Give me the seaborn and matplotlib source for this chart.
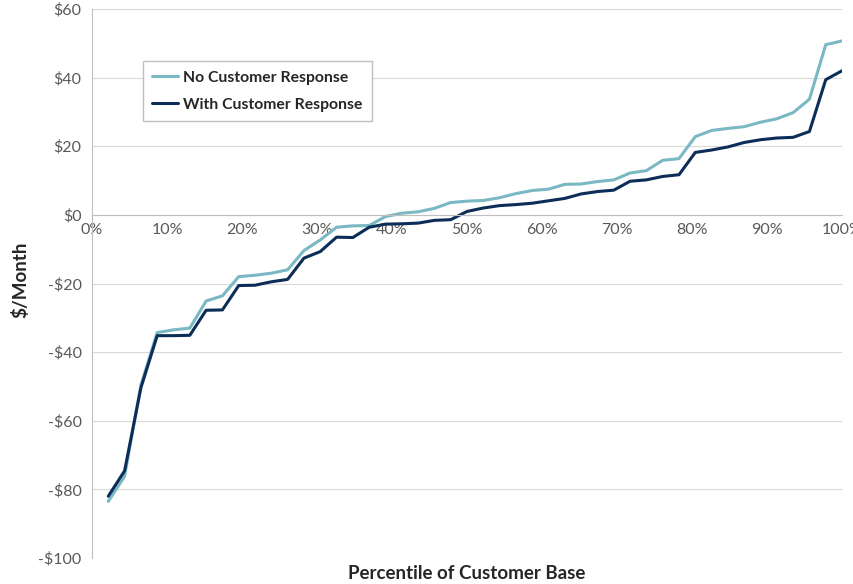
import matplotlib
matplotlib.use("Agg")
import matplotlib.pyplot as plt
import matplotlib.ticker as mticker
import seaborn as sns
import pandas as pd

# percentile positions (46 customers, evenly spaced)
percentile = [i / 46 * 100 for i in range(1, 47)]

no_response = [
    -83.5, -76.2, -49.6, -34.3, -33.5, -33.0, -25.1, -23.6, -18.0, -17.6,
    -17.0, -16.0, -10.4, -7.3, -3.6, -3.2, -3.1, -0.5, 0.5, 0.9,
    1.9, 3.6, 4.0, 4.2, 5.0, 6.2, 7.1, 7.5, 8.9, 9.0,
    9.7, 10.2, 12.2, 12.9, 15.9, 16.4, 22.8, 24.6, 25.2, 25.7,
    27.0, 28.0, 29.8, 33.7, 49.6, 50.7,
]
with_response = [
    -82.0, -74.6, -50.4, -35.2, -35.2, -35.1, -27.8, -27.7, -20.6, -20.5,
    -19.5, -18.8, -12.6, -10.7, -6.5, -6.6, -3.6, -2.7, -2.6, -2.4,
    -1.6, -1.4, 1.0, 2.0, 2.7, 3.0, 3.4, 4.1, 4.8, 6.1,
    6.8, 7.2, 9.8, 10.2, 11.2, 11.7, 18.2, 18.9, 19.8, 21.1,
    21.9, 22.4, 22.6, 24.3, 39.4, 42.0,
]

series_names = ["No Customer Response", "With Customer Response"]
colors = ["#7ab8c3", "#0c2d57"]

df = pd.DataFrame({
    "Percentile": percentile * 2,
    "Value": no_response + with_response,
    "Series": [series_names[0]] * len(percentile) + [series_names[1]] * len(percentile),
})

sns.set_style("white")
plt.rcParams["font.family"] = ["Lato", "DejaVu Sans"]

fig = plt.figure(figsize=(8.54, 5.84), dpi=100)
ax = fig.add_axes([0.1077, 0.0445, 0.8783, 0.9401])

sns.lineplot(
    data=df, x="Percentile", y="Value", hue="Series",
    palette=dict(zip(series_names, colors)), linewidth=2.2, ax=ax,
)

ax.set_xlim(0, 100)
ax.set_ylim(-100, 60)
ax.xaxis.set_major_locator(mticker.MultipleLocator(10))
ax.xaxis.set_major_formatter(mticker.FuncFormatter(lambda v, p: f"{v:.0f}%"))
ax.yaxis.set_major_locator(mticker.MultipleLocator(20))
ax.yaxis.set_major_formatter(
    mticker.FuncFormatter(lambda v, p: f"-${abs(v):.0f}" if v < 0 else f"${v:.0f}")
)

ax.grid(True, axis="y", color="#d9d9d9", linewidth=0.8)
ax.set_axisbelow(True)
for s in ["top", "right"]:
    ax.spines[s].set_visible(False)
ax.spines["bottom"].set_position(("data", 0))
ax.spines["bottom"].set_color("#bfbfbf")
ax.spines["left"].set_color("#bfbfbf")
ax.tick_params(axis="both", which="major", direction="out", length=4,
               color="#bfbfbf", labelcolor="#595959", labelsize=11.5)
ax.tick_params(axis="x", pad=2)

ax.set_xlabel("Percentile of Customer Base", fontsize=13.5, fontweight="bold", color="#262626")
ax.xaxis.set_label_coords(0.5, -0.013)
ax.set_ylabel("$/Month", fontsize=13.5, fontweight="bold", color="#262626")
ax.yaxis.set_label_coords(-0.083, 0.506)

leg = ax.legend(
    loc="upper left", bbox_to_anchor=(0.068, 0.905), frameon=True, fancybox=False,
    edgecolor="#bfbfbf", framealpha=1, prop={"size": 11.3, "weight": "bold"},
    handlelength=1.6, handletextpad=0.35, borderpad=0.6, labelspacing=0.85,
    borderaxespad=0,
)
for t in leg.get_texts():
    t.set_color("#262626")

fig.savefig("out.png", dpi=100)
